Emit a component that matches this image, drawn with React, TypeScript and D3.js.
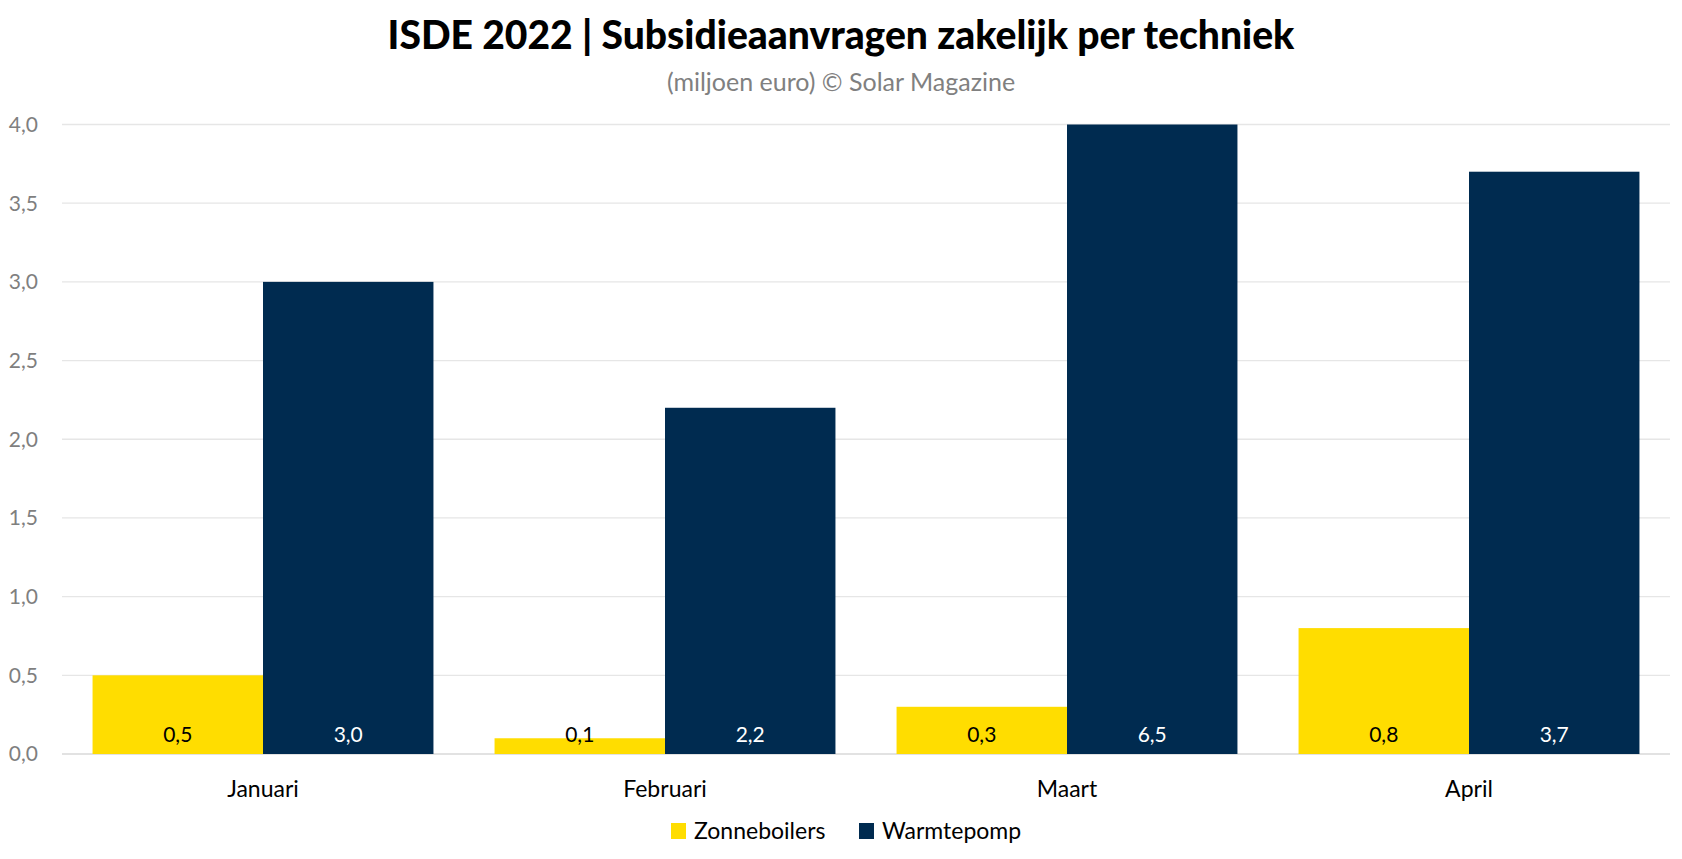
import React from "react";
import * as d3 from "d3";

const categories = ["Januari", "Februari", "Maart", "April"];
const seriesNames = ["Zonneboilers", "Warmtepomp"];
const zonneboilers = [0.5, 0.1, 0.3, 0.8];
const warmtepomp = [3.0, 2.2, 6.5, 3.7];
const yTicks = [0, 0.5, 1, 1.5, 2, 2.5, 3, 3.5, 4];
const colors = ["#FFDD00", "#002B50"];
const labelColors = ["#000000", "#FFFFFF"];

const W = 1682;
const H = 859;
const FONT = "Lato, 'Noto Sans', sans-serif";

export default function App() {
  const left = 62;
  const right = 1670;
  const top = 124.5;
  const bottom = 754;

  const x0 = d3
    .scaleBand<string>()
    .domain(categories)
    .range([left, right])
    .paddingInner(0.152)
    .paddingOuter(0.076);
  const x1 = d3
    .scaleBand<string>()
    .domain(seriesNames)
    .range([0, x0.bandwidth()]);
  const y = d3.scaleLinear().domain([0, 4]).range([bottom, top]).clamp(true);

  const fmt = (v: number) => v.toFixed(1).replace(".", ",");
  const series = [zonneboilers, warmtepomp];

  return (
    <svg
      width={W}
      height={H}
      style={{ position: "absolute", left: 0, top: 0, background: "#fff" }}
      fontFamily={FONT}
    >
      <text
        x={W / 2}
        y={49}
        textAnchor="middle"
        fontSize={39}
        fontWeight={900}
        fill="#000"
      >
        ISDE 2022 | Subsidieaanvragen zakelijk per techniek
      </text>
      <text x={W / 2} y={91} textAnchor="middle" fontSize={25} fill="#808080">
        (miljoen euro) © Solar Magazine
      </text>

      {yTicks.map((t) => (
        <g key={t}>
          <line
            x1={left}
            x2={right}
            y1={y(t)}
            y2={y(t)}
            stroke={t === 0 ? "#d9d9d9" : "#e6e6e6"}
            strokeWidth={1.3}
          />
          <text
            x={38}
            y={y(t)}
            dy="0.35em"
            textAnchor="end"
            fontSize={21}
            fill="#7f7f7f"
          >
            {fmt(t)}
          </text>
        </g>
      ))}

      {categories.map((c, i) => (
        <g key={c} transform={`translate(${x0(c)},0)`}>
          {seriesNames.map((s, j) => {
            const v = series[j][i];
            const bx = x1(s)!;
            const bw = x1.bandwidth();
            return (
              <g key={s}>
                <rect
                  x={bx}
                  y={y(v)}
                  width={bw}
                  height={bottom - y(v)}
                  fill={colors[j]}
                />
                <text
                  x={bx + bw / 2}
                  y={742}
                  textAnchor="middle"
                  fontSize={21}
                  fill={labelColors[j]}
                >
                  {fmt(v)}
                </text>
              </g>
            );
          })}
          <text
            x={x0.bandwidth() / 2}
            y={797}
            textAnchor="middle"
            fontSize={23}
            fill="#000"
          >
            {c}
          </text>
        </g>
      ))}

      {seriesNames.map((s, j) => {
        const lx = [671, 859][j];
        return (
          <g key={s}>
            <rect x={lx} y={823} width={15} height={16} fill={colors[j]} />
            <text x={lx + 23} y={839} fontSize={23} fill="#000">
              {s}
            </text>
          </g>
        );
      })}
    </svg>
  );
}
